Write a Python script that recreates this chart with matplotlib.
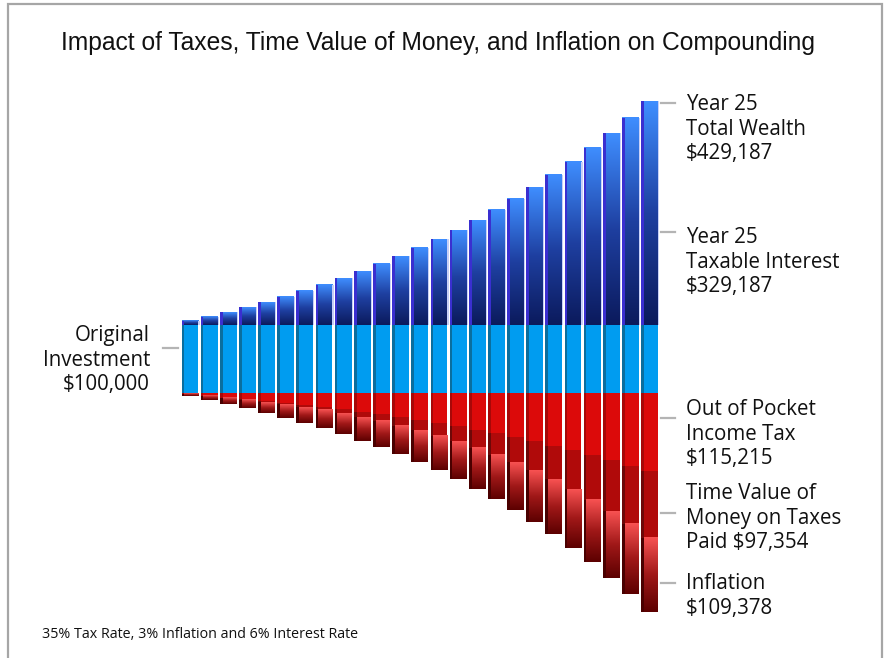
import numpy as np
import matplotlib
matplotlib.use("Agg")
import matplotlib.pyplot as plt
from matplotlib.colors import LinearSegmentedColormap
from matplotlib.lines import Line2D
from matplotlib.patches import Rectangle

# ---------------- data ----------------
years = list(range(1, 26))
principal = 100000
interest = [6000, 12360, 19102, 26248, 33823, 41852, 50363, 59385, 68948, 79085,
            89830, 101220, 113293, 126090, 139656, 154035, 169277, 185434, 202560,
            220714, 239956, 260354, 281975, 304893, 329187]
income_tax = [2100, 4326, 6686, 9187, 11838, 14648, 17627, 20785, 24132, 27680,
              31441, 35427, 39652, 44132, 48880, 53912, 59247, 64902, 70896,
              77250, 83985, 91124, 98691, 106713, 115215]
time_value = [0, 126, 393, 818, 1418, 2214, 3225, 4476, 5992, 7799,
              9928, 12410, 15281, 18576, 22339, 26612, 31444, 36885, 42992,
              49825, 57450, 65936, 75360, 85802, 97354]
inflation = [3000, 6090, 9273, 12551, 15927, 19405, 22987, 26677, 30477, 34392,
             38423, 42576, 46853, 51259, 55797, 60471, 65285, 70243, 75351,
             80611, 86029, 91610, 97359, 103279, 109378]

title = "Impact of Taxes, Time Value of Money, and Inflation on Compounding"
footnote = "35% Tax Rate, 3% Inflation and 6% Interest Rate"
right_labels = [
    "Year 25\nTotal Wealth\n$429,187",
    "Year 25\nTaxable Interest\n$329,187",
    "Out of Pocket\nIncome Tax\n$115,215",
    "Time Value of\nMoney on Taxes\nPaid $97,354",
    "Inflation\n$109,378",
]
left_label = "Original\nInvestment\n$100,000"

# ---------------- figure ----------------
W, H = 885, 658
fig = plt.figure(figsize=(W / 100, H / 100), dpi=100)

def fx(px):
    return px / W

def fy(py):
    return 1 - py / H

# axes in pixel geometry: bars centred at 190 + (i-1)*19.15 px, y=0 at px 393
ax_l, ax_r, ax_t, ax_b = 170, 670, 90, 625
ax = fig.add_axes([fx(ax_l), fy(ax_b), fx(ax_r - ax_l), (ax_b - ax_t) / H])
px_per_year = 19.15
dollars_per_px = 100000 / 68.0
ax.set_xlim(1 - (190 - ax_l) / px_per_year, 1 + (ax_r - 190) / px_per_year)
ax.set_ylim(-(ax_b - 393) * dollars_per_px, (393 - ax_t) * dollars_per_px)
ax.axis("off")

blue_cmap = LinearSegmentedColormap.from_list("b", ["#0b1a5c", "#1e3fa0", "#3f8eff"])
red_cmap = LinearSegmentedColormap.from_list("r", ["#5c0000", "#a01818", "#f85252"])
grad = np.linspace(0, 1, 256).reshape(-1, 1)

bw = 0.88
edge = 0.14
for i, yr in enumerate(years):
    x0 = yr - bw / 2
    x1 = yr + bw / 2
    # principal band
    ax.bar(yr, principal, width=bw, bottom=0, color="#009cf0", lw=0, zorder=2)
    ax.bar(x0 + edge / 2, principal, width=edge, bottom=0, color="#0a6e9e", lw=0, zorder=3)
    # interest (gradient)
    top = principal + interest[i]
    ax.imshow(grad, cmap=blue_cmap, aspect="auto", origin="lower",
              extent=[x0, x1, principal, top], zorder=2, interpolation="bilinear")
    ax.bar(x0 + edge / 2, interest[i], width=edge, bottom=principal, color="#3a2fd0", lw=0, zorder=3)
    ax.bar(x1 + 0.03, interest[i], width=0.06, bottom=principal, color="#c8d0f8", lw=0, zorder=3)
    # income tax
    ax.bar(yr, -income_tax[i], width=bw, bottom=0, color="#dc0a0a", lw=0, zorder=2)
    ax.bar(x0 + edge / 2, -income_tax[i], width=edge, bottom=0, color="#a80808", lw=0, zorder=3)
    # time value of taxes
    b1 = -income_tax[i]
    ax.bar(yr, -time_value[i], width=bw, bottom=b1, color="#b00a0a", lw=0, zorder=2)
    ax.bar(x0 + edge / 2, -time_value[i], width=edge, bottom=b1, color="#6e0808", lw=0, zorder=3)
    # inflation (gradient)
    b2 = b1 - time_value[i]
    ax.imshow(grad, cmap=red_cmap, aspect="auto", origin="lower",
              extent=[x0, x1, b2 - inflation[i], b2], zorder=2, interpolation="bilinear")
    ax.bar(x0 + edge / 2, -inflation[i], width=edge, bottom=b2, color="#4a0000", lw=0, zorder=3)

# ---------------- text ----------------
fig.text(fx(438), fy(43), title, ha="center", va="center", fontsize=17.7,
         family="Liberation Sans", color="#111111")
fig.text(fx(42), fy(634), footnote, ha="left", va="center", fontsize=10.3,
         family="Open Sans", color="#111111")

lab_font = dict(family="Open Sans", fontsize=14.8, color="#111111", linespacing=1.23)
right_tops = [94, 227, 399, 483, 573]
for lab, t in zip(right_labels, right_tops):
    fig.text(fx(686), fy(t), lab, ha="left", va="top", **lab_font)
fig.text(fx(150), fy(325), left_label, ha="right", va="top", multialignment="right", **lab_font)

tick_c = "#b4b4b4"
for ty in [103, 232, 418, 513, 583]:
    fig.add_artist(Line2D([fx(661), fx(675)], [fy(ty), fy(ty)], color=tick_c, lw=1.6))
fig.add_artist(Line2D([fx(163), fx(178)], [fy(348), fy(348)], color=tick_c, lw=1.6))

# frame
fig.add_artist(Rectangle((fx(8), fy(680)), fx(874), (680 - 4) / H, fill=False,
                         edgecolor="#a6a6a6", lw=1.6))

fig.savefig("out.png", dpi=100)
